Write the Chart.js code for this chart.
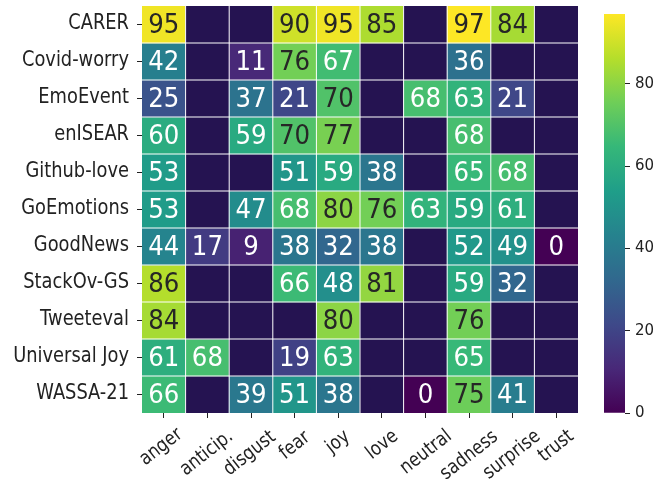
<!DOCTYPE html>
<html>
<head>
<meta charset="utf-8">
<script src="https://cdn.jsdelivr.net/npm/chart.js@4/dist/chart.umd.min.js"></script>
<style>
  html, body { margin: 0; padding: 0; background: #fff; }
  #wrap { position: relative; width: 657px; height: 479px; }
  #heat { position: absolute; left: 0; top: 0; }
  #bar { position: absolute; left: 604px; top: 0; }
</style>
</head>
<body>
<div id="wrap">
  <canvas id="heat" width="657" height="479"></canvas>
  <canvas id="bar" width="53" height="479"></canvas>
</div>
<script>
// Emotion columns and dataset rows
const emotions = ['anger', 'anticip.', 'disgust', 'fear', 'joy', 'love', 'neutral', 'sadness', 'surprise', 'trust'];
const corpora = ['CARER', 'Covid-worry', 'EmoEvent', 'enISEAR', 'Github-love', 'GoEmotions',
                 'GoodNews', 'StackOv-GS', 'Tweeteval', 'Universal Joy', 'WASSA-21'];

// Scores per corpus (null = emotion not annotated in that corpus)
const carer        = [95, null, null, 90, 95, 85, null, 97, 84, null];
const covidWorry   = [42, null, 11, 76, 67, null, null, 36, null, null];
const emoEvent     = [25, null, 37, 21, 70, null, 68, 63, 21, null];
const enIsear      = [60, null, 59, 70, 77, null, null, 68, null, null];
const githubLove   = [53, null, null, 51, 59, 38, null, 65, 68, null];
const goEmotions   = [53, null, 47, 68, 80, 76, 63, 59, 61, null];
const goodNews     = [44, 17, 9, 38, 32, 38, null, 52, 49, 0];
const stackOvGs    = [86, null, null, 66, 48, 81, null, 59, 32, null];
const tweeteval    = [84, null, null, null, 80, null, null, 76, null, null];
const universalJoy = [61, 68, null, 19, 63, null, null, 65, null, null];
const wassa21      = [66, null, 39, 51, 38, null, 0, 75, 41, null];

const rowValues = [carer, covidWorry, emoEvent, enIsear, githubLove, goEmotions,
                   goodNews, stackOvGs, tweeteval, universalJoy, wassa21];

const colorbarTicks = [0, 20, 40, 60, 80];
const vmin = 0, vmax = 97;

// Viridis colour ramp
const VIRIDIS = ['#440154', '#482878', '#3e4989', '#31688e', '#26828e',
                 '#1f9e89', '#35b779', '#6ece58', '#b5de2b', '#fde725'];
const EMPTY = 'rgb(37,19,81)';
const FONT = 'DejaVu Sans';
const INK = '#222222';

// Text styling
const LABEL_SIZE = 20.5, LABEL_SQUEEZE = 0.87;
const XLABEL_SIZE = 19.5, XLABEL_SQUEEZE = 0.85, XLABEL_ANGLE = 38 * Math.PI / 180;
const ANNOT_SIZE = 26, ANNOT_SQUEEZE = 0.94;

function hexToRgb(h) {
  return [parseInt(h.slice(1, 3), 16), parseInt(h.slice(3, 5), 16), parseInt(h.slice(5, 7), 16)];
}
function viridisRgb(t) {
  t = Math.max(0, Math.min(1, t));
  const p = t * (VIRIDIS.length - 1);
  const i = Math.min(Math.floor(p), VIRIDIS.length - 2);
  const f = p - i;
  const a = hexToRgb(VIRIDIS[i]), b = hexToRgb(VIRIDIS[i + 1]);
  return a.map((v, k) => v + (b[k] - v) * f);
}
function rgbStr(c) { return `rgb(${c.map(Math.round).join(',')})`; }
function luminance(c) {
  const lin = c.map(v => { v /= 255; return v <= 0.03928 ? v / 12.92 : Math.pow((v + 0.055) / 1.055, 2.4); });
  return 0.2126 * lin[0] + 0.7152 * lin[1] + 0.0722 * lin[2];
}
const norm = v => (v - vmin) / (vmax - vmin);

// Separators, cell annotations, row labels and rotated column labels
const heatPlugin = {
  id: 'heatDecor',
  afterDatasetsDraw(chart) {
    const ctx = chart.ctx;
    const { left, right, top, bottom } = chart.chartArea;
    const xs = chart.scales.x, ys = chart.scales.y;
    ctx.save();
    ctx.strokeStyle = '#ffffff';
    ctx.lineWidth = 1;
    ctx.beginPath();
    for (let i = 1; i < emotions.length; i++) {
      const x = (xs.getPixelForValue(i - 1) + xs.getPixelForValue(i)) / 2;
      ctx.moveTo(x, top); ctx.lineTo(x, bottom);
    }
    for (let j = 1; j < corpora.length; j++) {
      const y = ys.getPixelForValue(j);
      ctx.moveTo(left, y); ctx.lineTo(right, y);
    }
    ctx.stroke();

    ctx.font = `${ANNOT_SIZE}px "${FONT}"`;
    ctx.textAlign = 'center';
    ctx.textBaseline = 'alphabetic';
    chart.data.datasets.forEach((ds, r) => {
      const meta = chart.getDatasetMeta(r);
      meta.data.forEach((bar, c) => {
        const v = ds.values[c];
        if (v === null || v === undefined) return;
        const p = bar.getProps(['x', 'y', 'base'], true);
        const col = viridisRgb(norm(v));
        const txt = String(v);
        const m = ctx.measureText(txt);
        const cy = (p.y + p.base) / 2 - 1.5;
        const baseY = cy + (m.actualBoundingBoxAscent - m.actualBoundingBoxDescent) / 2;
        ctx.fillStyle = luminance(col) > 0.408 ? '#262626' : '#ffffff';
        ctx.save();
        ctx.translate(p.x, baseY);
        ctx.scale(ANNOT_SQUEEZE, 1);
        ctx.fillText(txt, 0, 0);
        ctx.restore();
      });
    });
    ctx.restore();
  },
  afterDraw(chart) {
    const ctx = chart.ctx;
    const xs = chart.scales.x, ys = chart.scales.y;
    ctx.save();
    ctx.fillStyle = INK;

    // row labels
    ctx.font = `${LABEL_SIZE}px "${FONT}"`;
    ctx.textAlign = 'right';
    ctx.textBaseline = 'middle';
    const labelRight = chart.chartArea.left - 13;
    corpora.forEach((lab, i) => {
      const y = ys.getPixelForValue(i + 0.5) - 1.3;
      ctx.save();
      ctx.translate(labelRight, y);
      ctx.scale(LABEL_SQUEEZE, 1);
      ctx.fillText(lab, 0, 0);
      ctx.restore();
    });

    // column labels, rotated, centred under each tick
    ctx.font = `${XLABEL_SIZE}px "${FONT}"`;
    ctx.textAlign = 'center';
    ctx.textBaseline = 'alphabetic';
    const topY = chart.chartArea.bottom + 14;
    const cs = Math.cos(XLABEL_ANGLE), sn = Math.sin(XLABEL_ANGLE);
    emotions.forEach((lab, i) => {
      const tx = xs.getPixelForValue(i);
      const m = ctx.measureText(lab);
      const x0 = -m.actualBoundingBoxLeft * XLABEL_SQUEEZE, x1 = m.actualBoundingBoxRight * XLABEL_SQUEEZE;
      const y0 = -m.actualBoundingBoxAscent, y1 = m.actualBoundingBoxDescent;
      const corners = [[x0, y0], [x1, y0], [x0, y1], [x1, y1]].map(([x, y]) => [x * cs + y * sn, -x * sn + y * cs]);
      const minX = Math.min(...corners.map(c => c[0])), maxX = Math.max(...corners.map(c => c[0]));
      const minY = Math.min(...corners.map(c => c[1]));
      const px = tx - 1 - (minX + maxX) / 2;
      const py = topY - minY;
      ctx.save();
      ctx.translate(px, py);
      ctx.rotate(-XLABEL_ANGLE);
      ctx.scale(XLABEL_SQUEEZE, 1);
      ctx.fillText(lab, 0, 0);
      ctx.restore();
    });
    ctx.restore();
  }
};

new Chart(document.getElementById('heat'), {
  type: 'bar',
  data: {
    labels: emotions,
    datasets: corpora.map((name, r) => ({
      label: name,
      data: emotions.map(() => [r, r + 1]),
      values: rowValues[r],
      backgroundColor: rowValues[r].map(v => (v === null ? EMPTY : rgbStr(viridisRgb(norm(v))))),
      borderWidth: 0,
      barPercentage: 1,
      categoryPercentage: 1,
      grouped: false
    }))
  },
  options: {
    responsive: false,
    animation: false,
    devicePixelRatio: 1,
    layout: { padding: { left: 0, right: 79, top: 6, bottom: 0 } },
    plugins: { legend: { display: false }, tooltip: { enabled: false } },
    scales: {
      x: {
        type: 'category',
        offset: true,
        grid: { display: true, offset: false, drawOnChartArea: false, drawTicks: true, tickLength: 5, color: INK, tickWidth: 1 },
        border: { display: false },
        ticks: { display: false },
        afterFit(s) { s.height = 66; }
      },
      y: {
        type: 'linear',
        min: 0,
        max: corpora.length,
        reverse: true,
        afterBuildTicks(s) { s.ticks = corpora.map((_, i) => ({ value: i + 0.5 })); },
        ticks: { display: false, autoSkip: false },
        grid: { drawOnChartArea: false, tickLength: 5, color: INK, tickWidth: 1 },
        border: { display: false },
        afterFit(s) { s.width = 142; }
      }
    }
  },
  plugins: [heatPlugin]
});

// Colour bar
new Chart(document.getElementById('bar'), {
  type: 'bar',
  data: {
    labels: [''],
    datasets: [{
      data: [[vmin, vmax]],
      backgroundColor: (c) => {
        const ch = c.chart;
        if (!ch.chartArea) return rgbStr(viridisRgb(0.5));
        const y = ch.scales.y;
        const g = ch.ctx.createLinearGradient(0, y.getPixelForValue(vmin), 0, y.getPixelForValue(vmax));
        VIRIDIS.forEach((s, i) => g.addColorStop(i / (VIRIDIS.length - 1), s));
        return g;
      },
      borderWidth: 0,
      barPercentage: 1,
      categoryPercentage: 1
    }]
  },
  options: {
    responsive: false,
    animation: false,
    devicePixelRatio: 1,
    layout: { padding: { left: 0, right: 0, top: 6, bottom: 66 } },
    plugins: { legend: { display: false }, tooltip: { enabled: false } },
    scales: {
      x: { display: false },
      y: {
        position: 'right',
        min: vmin,
        max: vmax,
        afterBuildTicks(s) { s.ticks = colorbarTicks.map(v => ({ value: v })); },
        ticks: { autoSkip: false, font: { family: FONT, size: 15 }, color: INK, padding: 5 },
        grid: { drawOnChartArea: false, tickLength: 5, color: INK, tickWidth: 1 },
        border: { display: false },
        afterFit(s) { s.width = 32; }
      }
    }
  }
});
</script>
</body>
</html>
